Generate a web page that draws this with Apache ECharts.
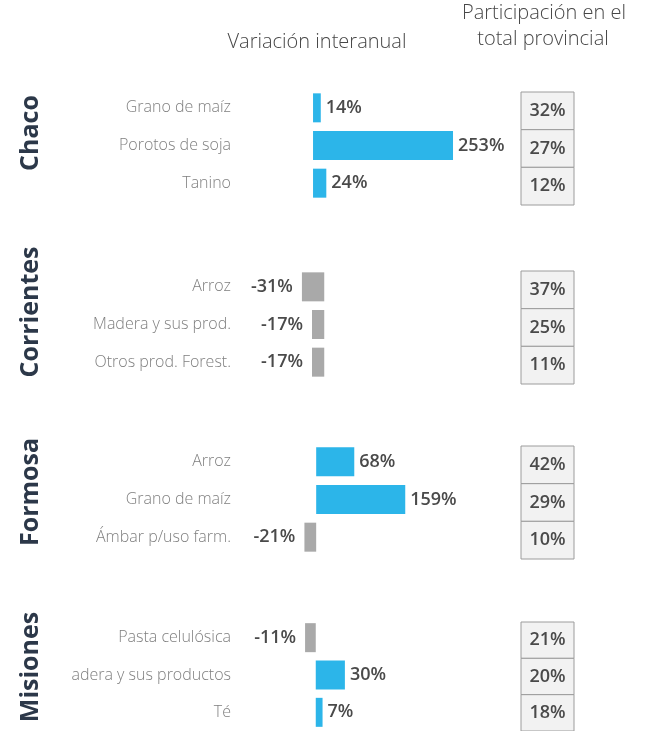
<!DOCTYPE html>
<html>
<head>
<meta charset="utf-8">
<script src="https://cdn.jsdelivr.net/npm/echarts@6.0.0/dist/echarts.min.js"></script>
<style>
html, body { margin: 0; padding: 0; background: #fff; }
#myChart { width: 646px; height: 731px; }
</style>
</head>
<body>
<div id="myChart"></div>
<script>
// data
var provinces = ['Chaco', 'Corrientes', 'Formosa', 'Misiones'];

var chacoProducts = ['Grano de maíz', 'Porotos de soja', 'Tanino'];
var chacoVariation = [14, 253, 24];
var chacoShare = [32, 27, 12];

var corrientesProducts = ['Arroz', 'Madera y sus prod.', 'Otros prod. Forest.'];
var corrientesVariation = [-31, -17, -17];
var corrientesShare = [37, 25, 11];

var formosaProducts = ['Arroz', 'Grano de maíz', 'Ámbar p/uso farm.'];
var formosaVariation = [68, 159, -21];
var formosaShare = [42, 29, 10];

var misionesProducts = ['Pasta celulósica', 'adera y sus productos', 'Té'];
var misionesVariation = [-11, 30, 7];
var misionesShare = [21, 20, 18];

var products = [chacoProducts, corrientesProducts, formosaProducts, misionesProducts];
var variations = [chacoVariation, corrientesVariation, formosaVariation, misionesVariation];
var shares = [chacoShare, corrientesShare, formosaShare, misionesShare];

// layout
var PANEL_TOP = [89, 268, 443, 619];
var AXIS_MIN = [-132, -117, -136, -78];
var AXIS_MAX = [356, 258, 346, 200];
var NAME_Y = [133, 312, 492, 667];
var BLUE = '#2cb5e9';
var GRAY = '#a9a9a9';
var FONT = '"Open Sans", "Noto Sans", sans-serif';

function renderShareCell(params, api) {
    var cs = params.coordSys;
    var center = api.coord([0, api.value(0)]);
    var h = api.size([0, 1])[1];
    return {
        type: 'group',
        children: [{
            type: 'rect',
            shape: { x: cs.x, y: center[1] - h / 2, width: cs.width, height: h },
            style: { fill: '#f2f2f2', stroke: '#9c9c9c', lineWidth: 1 }
        }, {
            type: 'text',
            x: cs.x + cs.width / 2,
            y: center[1],
            style: {
                text: api.value(1) + '%',
                align: 'center',
                verticalAlign: 'middle',
                font: '600 18px ' + FONT,
                fill: '#4a4a4a'
            }
        }]
    };
}

function makeOption() {
    var grid = [], xAxis = [], yAxis = [], series = [], graphic = [];

    provinces.forEach(function(name, p) {
        var g = p * 2;
        // bars
        grid.push({ left: 240, right: 136, top: PANEL_TOP[p], height: 113 });
        xAxis.push({ gridIndex: g, type: 'value', min: AXIS_MIN[p], max: AXIS_MAX[p], show: false });
        yAxis.push({
            gridIndex: g,
            type: 'category',
            inverse: true,
            data: products[p],
            axisLine: { show: false, onZero: false },
            axisTick: { show: false },
            splitLine: { show: false },
            axisLabel: { margin: 9, fontSize: 16, fontWeight: 300, color: '#7f7f7f', fontFamily: FONT }
        });
        series.push({
            type: 'bar',
            xAxisIndex: g,
            yAxisIndex: g,
            barWidth: 29,
            data: variations[p].map(function(v) {
                return {
                    value: v,
                    itemStyle: { color: v < 0 ? GRAY : BLUE },
                    label: { position: v < 0 ? 'left' : 'right', distance: v < 0 ? 9 : 5 }
                };
            }),
            label: {
                show: true,
                formatter: '{c}%',
                fontSize: 18,
                fontWeight: 600,
                color: '#4a4a4a',
                fontFamily: FONT
            }
        });

        // participation cells
        grid.push({ left: 521, right: 72, top: PANEL_TOP[p] + 3, height: 113 });
        xAxis.push({ gridIndex: g + 1, type: 'value', min: 0, max: 1, show: false });
        yAxis.push({ gridIndex: g + 1, type: 'category', inverse: true, data: products[p], show: false });
        series.push({
            type: 'custom',
            xAxisIndex: g + 1,
            yAxisIndex: g + 1,
            renderItem: renderShareCell,
            encode: { x: -1, y: 0 },
            data: shares[p].map(function(s, i) { return [i, s]; })
        });

        graphic.push({
            type: 'text',
            x: 31,
            y: NAME_Y[p],
            rotation: Math.PI / 2,
            style: {
                text: name,
                align: 'center',
                verticalAlign: 'middle',
                font: 'bold 25px ' + FONT,
                fill: '#2c3849'
            }
        });
    });

    var headStyle = { align: 'center', verticalAlign: 'middle', font: '300 20px ' + FONT, fill: '#474747' };
    graphic.push({ type: 'text', x: 317, y: 42, style: Object.assign({ text: 'Variación interanual' }, headStyle) });
    graphic.push({ type: 'text', x: 544, y: 13, style: Object.assign({ text: 'Participación en el' }, headStyle) });
    graphic.push({ type: 'text', x: 543, y: 39, style: Object.assign({ text: 'total provincial' }, headStyle) });

    return {
        animation: false,
        backgroundColor: '#fff',
        grid: grid,
        xAxis: xAxis,
        yAxis: yAxis,
        series: series,
        graphic: graphic
    };
}

var myChart = echarts.init(document.getElementById('myChart'));
myChart.setOption(makeOption());
</script>
</body>
</html>
